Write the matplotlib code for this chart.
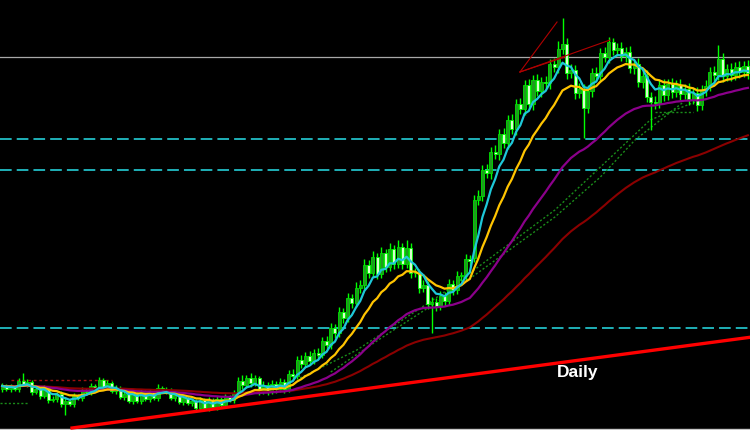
import matplotlib
matplotlib.use("Agg")
import matplotlib.pyplot as plt
import numpy as np
import pandas as pd

# ---- candle data (price units) ----
opens = [41,44,41,43,41,49,46,48,38,41,34,42,30,31,36,26,29,26,34,32,40,38,44,42,50,43,47,39,42,33,
         36,29,36,29,38,31,38,32,42,39,40,32,35,28,32,27,29,22,30,22,30,23,31,25,33,30,37,49,45,52,
         47,52,39,45,39,46,41,48,41,56,54,70,66,74,69,77,75,89,85,102,97,118,112,132,127,142,145,165,157,173,
         156,177,163,181,166,183,166,182,157,157,142,145,126,128,124,134,129,146,140,154,154,171,172,230,234,260,257,278,276,296,
         287,310,301,326,321,345,326,350,339,348,347,366,363,381,386,357,360,337,341,322,339,357,354,377,373,388,380,382,374,378,
         362,366,348,354,333,328,327,345,335,346,338,345,336,341,331,337,325,340,344,358,355,371,354,361,355,363,358,364]
closes = [44,41,43,41,49,46,48,38,41,34,42,30,31,36,26,29,26,34,32,40,38,44,42,50,43,47,39,42,33,36,
          29,36,29,38,31,38,32,42,39,40,32,35,28,32,27,29,22,30,22,30,23,31,25,33,30,37,49,45,52,47,
          52,39,45,39,46,41,48,41,56,54,70,66,74,69,77,75,89,85,102,97,118,112,132,127,142,145,165,157,173,156,
          177,163,181,166,183,166,182,157,157,142,145,126,128,124,134,129,146,140,154,154,171,169,230,234,260,257,278,276,296,287,
          310,301,326,321,345,326,350,339,348,347,366,363,381,386,357,360,337,341,322,339,357,354,377,373,388,380,382,374,378,362,
          366,348,354,333,328,327,345,335,346,338,345,336,341,331,337,325,340,344,358,355,371,354,361,355,363,358,364,357]
highs = [47,46,46,45,52,57,51,50,44,43,45,44,34,38,39,33,31,37,36,43,42,47,46,53,52,50,49,45,44,39,
         38,39,38,41,40,41,40,46,44,43,42,38,37,35,34,32,31,33,32,33,32,34,33,36,35,40,53,55,55,57,
         55,54,49,48,50,49,52,51,60,61,74,75,78,79,81,82,93,94,107,106,123,122,137,136,148,150,171,170,179,177,
         183,181,187,185,190,187,190,187,162,161,150,149,133,132,139,138,151,150,159,158,176,175,235,240,265,266,283,285,301,302,
         315,316,331,332,350,351,355,356,353,354,371,372,389,412,392,366,365,347,346,345,362,363,382,383,393,392,387,388,383,384,
         371,372,359,360,338,334,350,351,351,352,350,351,346,347,342,343,345,350,363,364,385,377,366,367,368,369,369,370]
lows = [38,39,38,39,38,44,43,35,36,31,32,27,28,28,23,15,24,23,30,29,36,35,40,39,41,40,37,36,31,30,
        27,26,27,26,29,28,30,29,37,36,30,29,26,25,25,24,20,19,20,19,21,20,23,22,28,27,34,41,42,43,
        44,35,36,35,36,37,38,37,38,50,51,62,63,65,66,71,72,81,81,92,93,107,108,122,123,137,141,152,153,151,
        152,158,159,161,162,161,162,152,153,137,138,121,97,119,120,124,125,135,136,149,150,164,168,225,229,252,251,271,270,282,
        281,296,295,316,315,321,320,334,333,342,341,358,357,376,351,352,331,332,292,317,333,349,348,368,367,375,374,369,368,357,
        356,343,342,328,300,321,322,329,330,332,333,330,331,325,326,319,320,334,339,349,350,348,349,349,350,352,353,351]

# moving-average periods (indicator settings)
ma_fast, ma_mid, ma_slow, ma_long = 6, 14, 40, 85

# horizontal levels and drawn lines (price units, time in candle index)
dashed_levels = [291, 260, 102]
gray_level = 373
trend_x = [16.6, 178.0]
trend_y = [2.0, 93.0]
fan_x = [[122.9, 131.7], [122.9, 144.3], [122.9, 133.6]]
fan_y = [[358, 408], [358, 390], [358, 373]]
dotA_x = [70.7, 84.2, 104.0, 131.2, 142.0, 153.8, 165.6]
dotA_y = [52, 80, 135, 220, 263, 310, 330]
dotB_x = [78.0, 90.0, 104.0, 131.2, 142.0, 150.2, 161.4]
dotB_y = [58, 92, 130, 213, 253, 290, 327]
dotH_x = [155.0, 164.0]
dotH_y = [318, 318]
dotRed_x = [2.0, 26.0]
dotRed_y = [50, 50]
dotGreenL_x = [-0.5, 6.2]
dotGreenL_y = [27, 27]

n = len(closes)
idx = np.arange(n)
s = pd.Series(closes, dtype=float)
ema_fast = s.ewm(span=ma_fast, adjust=False).mean()
ema_mid = s.ewm(span=ma_mid, adjust=False).mean()
ema_slow = s.ewm(span=ma_slow, adjust=False).mean()
ema_long = s.ewm(span=ma_long, adjust=False).mean()

fig = plt.figure(figsize=(7.5, 4.3), dpi=100, facecolor='black')
ax = fig.add_axes([0, 0, 1, 1])
ax.set_facecolor('black')
ax.set_xlim(-0.5, n - 0.5)
ax.set_ylim(0, 430)
ax.axis('off')

for lv in dashed_levels:
    ax.axhline(lv, color='#1fb0b8', lw=1.4, linestyle=(0, (6, 2.6)), zorder=1)
ax.axhline(gray_level, color='#a8a8a8', lw=0.9, zorder=1)
ax.axhline(1.2, color='#c8c8c8', lw=1.0, zorder=1)

dot_kw = dict(color='#1a8c1a', lw=1.0, linestyle=(0, (1.5, 1.5)), zorder=1.5)
ax.plot(dotA_x, dotA_y, **dot_kw)
ax.plot(dotB_x, dotB_y, **dot_kw)
ax.plot(dotH_x, dotH_y, **dot_kw)
ax.plot(dotGreenL_x, dotGreenL_y, **dot_kw)
ax.plot(dotRed_x, dotRed_y, color='#a01010', lw=1.0, linestyle=(0, (2, 2)), zorder=1.5)

o = np.array(opens, float); c = np.array(closes, float)
h = np.array(highs, float); l = np.array(lows, float)
bull = c >= o
ax.vlines(idx, l, h, color='#00ff00', lw=1.0, zorder=2)
body_h = np.where(np.abs(c - o) < 1, 1, c - o)
ax.bar(idx[bull], body_h[bull], bottom=o[bull], width=0.72,
       color='#1f9a1f', edgecolor='#00e000', lw=0.6, zorder=3)
ax.bar(idx[~bull], body_h[~bull], bottom=o[~bull], width=0.72,
       color='#d8ffcc', edgecolor='#00ff00', lw=0.6, zorder=3)

ax.plot(idx, ema_long, color='#8b0000', lw=1.5, zorder=4)
ax.plot(idx, ema_slow, color='#8b008b', lw=1.6, zorder=4)
ax.plot(idx, ema_mid, color='#ffc400', lw=1.6, zorder=5)
ax.plot(idx, ema_fast, color='#1ec8d8', lw=1.6, zorder=6)

for fx, fy in zip(fan_x, fan_y):
    ax.plot(fx, fy, color='#b00000', lw=0.8, zorder=6)
ax.plot(trend_x, trend_y, color='#ff0000', lw=2.4, zorder=7)

ax.text(136.7, 58, 'Daily', color='white', fontsize=12.5, fontweight='bold',
        family=['Liberation Sans', 'DejaVu Sans'], ha='center', va='center', zorder=8)

fig.savefig('out.png', dpi=100, facecolor='black')
